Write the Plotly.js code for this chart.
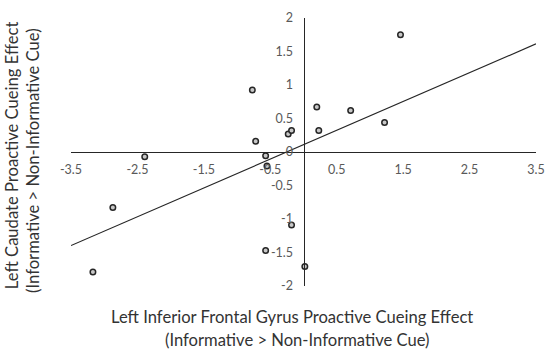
<!DOCTYPE html>
<html>
<head>
<meta charset="utf-8">
<script src="https://cdn.plot.ly/plotly-3.0.1.min.js"></script>
<style>html,body{margin:0;padding:0;background:#fff;}#chart{width:550px;height:354px;}</style>
</head>
<body>
<div id="chart"></div>
<script>
// Left IFG proactive cueing effect (x) vs left caudate proactive cueing effect (y)
var ifgEffect = [-2.39, -0.77, -0.72, -0.57, -0.23, -0.18, 1.46, 0.20, 0.23, 0.71, 1.22, -2.87, -3.17, -0.55, -0.57, -0.18, 0.02];
var caudateEffect = [-0.07, 0.925, 0.16, -0.055, 0.27, 0.32, 1.75, 0.67, 0.32, 0.62, 0.44, -0.83, -1.79, -0.21, -1.47, -1.09, -1.71];
var xTickVals = [-3.5, -2.5, -1.5, -0.5, 0.5, 1.5, 2.5, 3.5];
var yTickVals = [-2, -1.5, -1, -0.5, 0, 0.5, 1, 1.5, 2];
var xRange = [-3.5, 3.5];
var yRange = [-2, 2];

// least-squares linear trendline
var n = ifgEffect.length, mx = 0, my = 0;
for (var i = 0; i < n; i++) { mx += ifgEffect[i]; my += caudateEffect[i]; }
mx /= n; my /= n;
var sxy = 0, sxx = 0;
for (var i = 0; i < n; i++) { sxy += (ifgEffect[i]-mx)*(caudateEffect[i]-my); sxx += (ifgEffect[i]-mx)*(ifgEffect[i]-mx); }
var slope = sxy/sxx, intercept = my - slope*mx;
var trendX = xRange.slice();
var trendY = trendX.map(function(v){ return intercept + slope*v; });

var font = 'Lato, "Open Sans", sans-serif';
var data = [
  {x: trendX, y: trendY, mode: 'lines', line: {color: '#262626', width: 1.2}, hoverinfo: 'skip', showlegend: false},
  {x: ifgEffect, y: caudateEffect, mode: 'markers', showlegend: false,
   marker: {symbol: 'circle', size: 5.5, color: '#c8c8c8', line: {color: '#262626', width: 1.5}}}
];
var layout = {
  width: 550, height: 354,
  margin: {l: 71, r: 14, t: 18, b: 68},
  paper_bgcolor: '#fff', plot_bgcolor: '#fff',
  font: {family: font, color: '#595959', size: 12},
  xaxis: {range: xRange, tickvals: xTickVals, ticktext: xTickVals.map(String),
    showgrid: false, zeroline: false, showline: true, linecolor: '#262626', linewidth: 1,
    anchor: 'free', position: 0.5, ticks: 'outside', ticklen: 6, tickcolor: 'rgba(0,0,0,0)',
    tickfont: {family: font, size: 12.5, color: '#595959'}},
  yaxis: {range: yRange, tickvals: yTickVals, ticktext: yTickVals.map(String),
    showgrid: false, zeroline: false, showline: true, linecolor: '#262626', linewidth: 1,
    anchor: 'free', position: 0.5, ticks: 'outside', ticklen: 8, tickcolor: 'rgba(0,0,0,0)',
    tickfont: {family: font, size: 12.5, color: '#595959'}},
  annotations: [
    {text: 'Left Inferior Frontal Gyrus Proactive Cueing Effect', xref: 'paper', yref: 'paper', x: 0.475, y: -0.114, xanchor: 'center', yanchor: 'middle', showarrow: false, font: {family: font, size: 16.6, color: '#333333'}},
    {text: '(Informative &gt; Non-Informative Cue)', xref: 'paper', yref: 'paper', x: 0.487, y: -0.201, xanchor: 'center', yanchor: 'middle', showarrow: false, font: {family: font, size: 16.6, color: '#333333'}},
    {text: 'Left Caudate Proactive Cueing Effect', xref: 'paper', yref: 'paper', x: -0.128, y: 0.49, textangle: -90, xanchor: 'center', yanchor: 'middle', showarrow: false, font: {family: font, size: 16.6, color: '#333333'}},
    {text: '(Informative &gt; Non-Informative Cue)', xref: 'paper', yref: 'paper', x: -0.082, y: 0.47, textangle: -90, xanchor: 'center', yanchor: 'middle', showarrow: false, font: {family: font, size: 16.6, color: '#333333'}}
  ]
};
Plotly.newPlot('chart', data, layout, {displayModeBar: false, staticPlot: true});
</script>
</body>
</html>
